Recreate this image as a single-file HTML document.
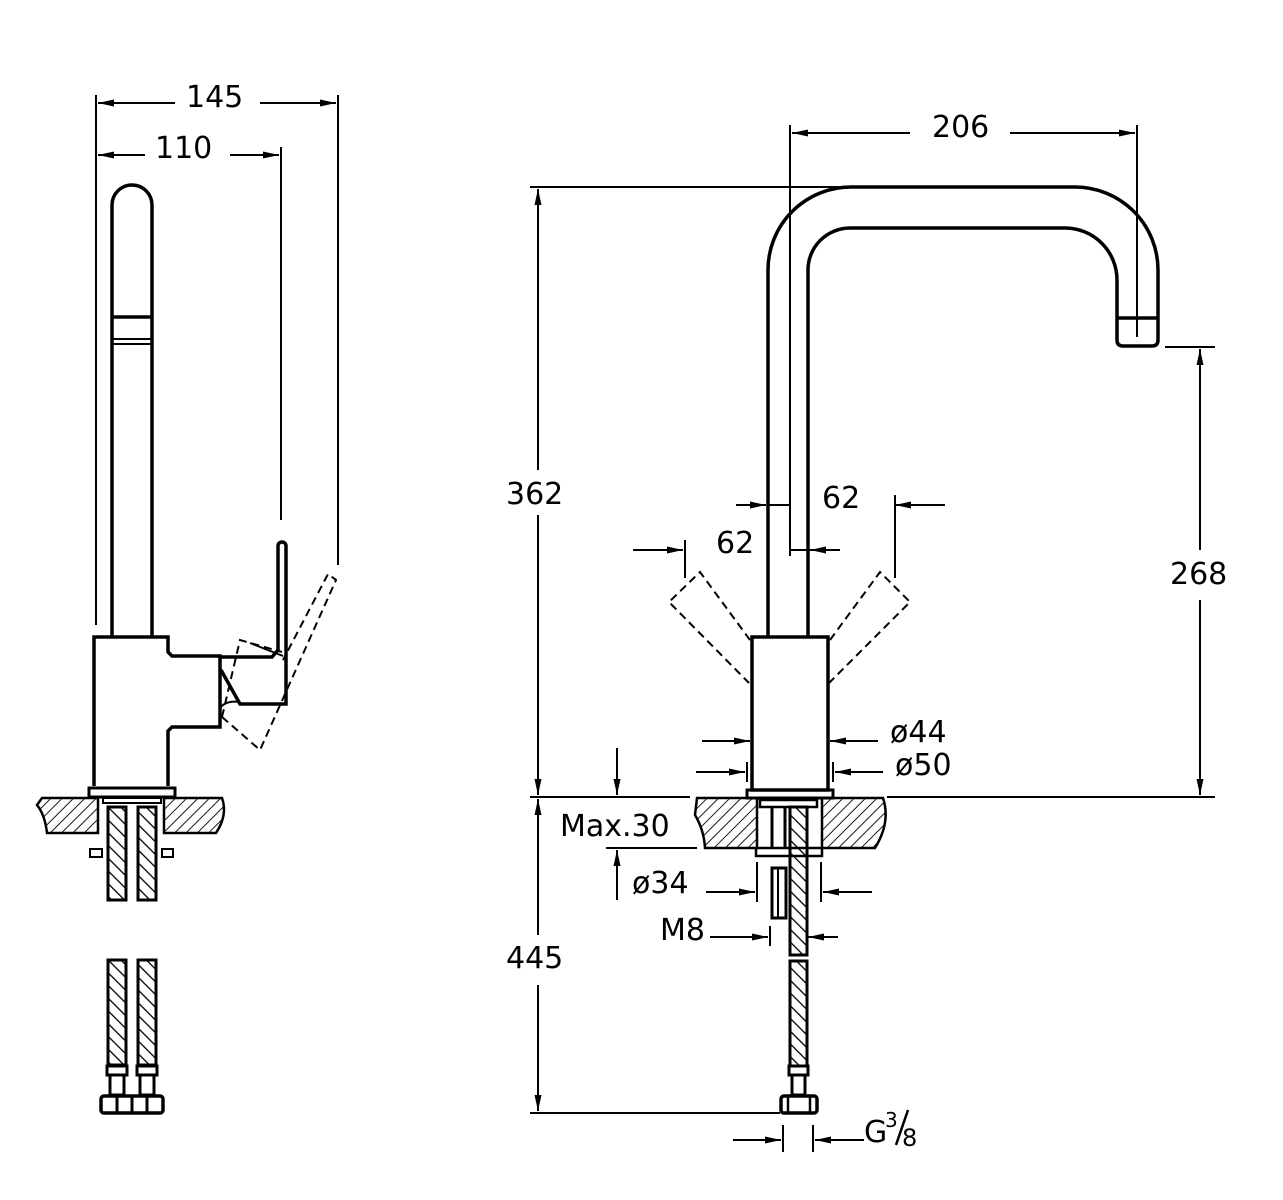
<!DOCTYPE html>
<html><head><meta charset="utf-8"><style>
html,body{margin:0;padding:0;background:#fff;}
svg{display:block}
text{font-family:"DejaVu Sans","Liberation Sans",sans-serif;font-size:30px;fill:#000}
</style></head><body>
<svg width="1283" height="1200" viewBox="0 0 1283 1200" xmlns="http://www.w3.org/2000/svg">
<defs>
<pattern id="h" width="8" height="8" patternUnits="userSpaceOnUse" patternTransform="rotate(45)">
<line x1="0" y1="0" x2="0" y2="8" stroke="#000" stroke-width="1.8"/></pattern>
<pattern id="h2" width="9" height="9" patternUnits="userSpaceOnUse" patternTransform="rotate(-45)">
<line x1="0" y1="0" x2="0" y2="9" stroke="#000" stroke-width="2.6"/></pattern>
<marker id="a" viewBox="0 0 16 7" refX="16" refY="3.5" markerWidth="16" markerHeight="7" orient="auto-start-reverse" markerUnits="userSpaceOnUse"><path d="M0,0 L16,3.5 L0,7 z" fill="#000"/></marker>
</defs>
<g fill="none" stroke="#000" stroke-width="2">
<line x1="96" y1="95" x2="96" y2="625"/>
<line x1="338" y1="95" x2="338" y2="565"/>
<line x1="281" y1="147" x2="281" y2="520"/>
<line x1="98" y1="103" x2="175" y2="103" marker-start="url(#a)"/>
<line x1="260" y1="103" x2="336" y2="103" marker-end="url(#a)"/>
<line x1="98" y1="155" x2="145" y2="155" marker-start="url(#a)"/>
<line x1="230" y1="155" x2="279" y2="155" marker-end="url(#a)"/>
<path d="M112,636 V205 A20,20 0 0 1 152,205 V636" stroke-width="3.5"/>
<line x1="112" y1="317" x2="152" y2="317" stroke-width="3.5"/>
<line x1="112" y1="339" x2="152" y2="339"/>
<line x1="112" y1="344" x2="152" y2="344"/>
<path d="M94,786 V637 H168 V652 L172,656 H220 V727 H172 L168,731 V786" stroke-width="3.5"/>
<path d="M220,657 H272 L278,650 V546 A4,4 0 0 1 286,546 V704 H240 L221,670" stroke-width="3.5"/>
<path d="M250,643 L283,656"/>
<path d="M220,708 Q226,700 240,702"/>
<path d="M222,717 L240,640 L282,652 M222,717 L260,750 L336,580 L328,574 L283,660" stroke-dasharray="8,5"/>
<rect x="89" y="788" width="86" height="9" stroke-width="3"/>
<path d="M42,798 H98 V833 H47 Q45,815 37,805 Z" fill="url(#h)" stroke-width="2.5"/>
<path d="M164,798 H222 Q228,815 216,833 H164 Z" fill="url(#h)" stroke-width="2.5"/>
<rect x="103" y="798" width="58" height="5"/>
<rect x="90" y="849" width="12" height="8"/>
<rect x="162" y="849" width="11" height="8"/>
<rect x="108" y="807" width="18" height="93" fill="url(#h2)" stroke-width="3"/>
<rect x="138" y="807" width="18" height="93" fill="url(#h2)" stroke-width="3"/>
<rect x="108" y="960" width="18" height="105" fill="url(#h2)" stroke-width="3"/>
<rect x="138" y="960" width="18" height="105" fill="url(#h2)" stroke-width="3"/>
<rect x="107" y="1066" width="20" height="9" stroke-width="3"/>
<rect x="137" y="1066" width="20" height="9" stroke-width="3"/>
<rect x="110" y="1075" width="14" height="20" stroke-width="3"/>
<rect x="140" y="1075" width="14" height="20" stroke-width="3"/>
<rect x="101" y="1096" width="62" height="17" rx="3" stroke-width="3.5"/>
<line x1="117" y1="1096" x2="117" y2="1113" stroke-width="3"/>
<line x1="132" y1="1096" x2="132" y2="1113" stroke-width="3"/>
<line x1="147" y1="1096" x2="147" y2="1113" stroke-width="3"/>

<line x1="790" y1="125" x2="790" y2="556"/>
<line x1="1137" y1="125" x2="1137" y2="337"/>
<line x1="792" y1="133" x2="910" y2="133" marker-start="url(#a)"/>
<line x1="1010" y1="133" x2="1135" y2="133" marker-end="url(#a)"/>
<line x1="530" y1="187" x2="850" y2="187"/>
<line x1="1165" y1="347" x2="1215" y2="347"/>
<line x1="538" y1="189" x2="538" y2="470" marker-start="url(#a)"/>
<line x1="538" y1="515" x2="538" y2="795" marker-end="url(#a)"/>
<line x1="1200" y1="349" x2="1200" y2="550" marker-start="url(#a)"/>
<line x1="1200" y1="600" x2="1200" y2="795" marker-end="url(#a)"/>
<line x1="530" y1="797" x2="690" y2="797"/>
<line x1="887" y1="797" x2="1215" y2="797"/>
<line x1="538" y1="799" x2="538" y2="935" marker-start="url(#a)"/>
<line x1="538" y1="985" x2="538" y2="1111" marker-end="url(#a)"/>
<line x1="530" y1="1113" x2="780" y2="1113"/>
<path d="M768,637 V270 A83,83 0 0 1 851,187 H1075 A83,83 0 0 1 1158,270 V340 Q1158,346 1152,346 H1123 Q1117,346 1117,340 V280 A52,52 0 0 0 1065,228 H850 A42,42 0 0 0 808,270 V637" stroke-width="3.5"/>
<line x1="1117" y1="318" x2="1158" y2="318" stroke-width="3.5"/>
<line x1="736" y1="505" x2="766" y2="505" marker-end="url(#a)"/>
<line x1="768" y1="505" x2="790" y2="505"/>
<line x1="895" y1="505" x2="945" y2="505" marker-start="url(#a)"/>
<line x1="895" y1="495" x2="895" y2="578"/>
<line x1="633" y1="550" x2="683" y2="550" marker-end="url(#a)"/>
<line x1="685" y1="540" x2="685" y2="578"/>
<line x1="790" y1="550" x2="840" y2="550"/>
<line x1="830" y1="550" x2="810" y2="550" marker-end="url(#a)"/>
<path d="M750,640 L700,572 L669,602 L749,683" stroke-dasharray="8,5"/>
<path d="M830,640 L880,572 L910,602 L829,683" stroke-dasharray="8,5"/>
<rect x="752" y="637" width="76" height="153" stroke-width="3.5"/>
<rect x="747" y="790" width="86" height="8" stroke-width="3"/>
<line x1="702" y1="741" x2="750" y2="741" marker-end="url(#a)"/>
<line x1="878" y1="741" x2="830" y2="741" marker-end="url(#a)"/>
<line x1="696" y1="772" x2="745" y2="772" marker-end="url(#a)"/>
<line x1="883" y1="772" x2="835" y2="772" marker-end="url(#a)"/>
<line x1="747" y1="762" x2="747" y2="782"/>
<line x1="833" y1="762" x2="833" y2="782"/>
<line x1="617" y1="748" x2="617" y2="795" marker-end="url(#a)"/>
<line x1="606" y1="848" x2="697" y2="848"/>
<line x1="617" y1="900" x2="617" y2="850" marker-end="url(#a)"/>
<path d="M697,798 H757 V848 H705 Q704,830 695,815 Z" fill="url(#h)" stroke-width="2.5"/>
<path d="M822,798 H883 Q891,822 875,848 H822 Z" fill="url(#h)" stroke-width="2.5"/>
<rect x="760" y="800" width="57" height="7" stroke-width="2.5"/>
<rect x="756" y="848" width="66" height="8" stroke-width="2.5"/>
<line x1="772" y1="807" x2="772" y2="848" stroke-width="3"/>
<line x1="785" y1="807" x2="785" y2="848" stroke-width="3"/>
<rect x="772" y="868" width="14" height="50" stroke-width="3"/>
<line x1="778" y1="868" x2="778" y2="918"/>
<rect x="790" y="807" width="17" height="148" fill="url(#h2)" stroke-width="3"/>
<rect x="790" y="961" width="17" height="105" fill="url(#h2)" stroke-width="3"/>
<rect x="789" y="1066" width="19" height="9" stroke-width="3"/>
<rect x="792" y="1075" width="13" height="20" stroke-width="3"/>
<rect x="781" y="1096" width="36" height="17" rx="3" stroke-width="3.5"/>
<line x1="788" y1="1096" x2="788" y2="1113" stroke-width="2.5"/>
<line x1="810" y1="1096" x2="810" y2="1113" stroke-width="2.5"/>
<line x1="706" y1="892" x2="755" y2="892" marker-end="url(#a)"/>
<line x1="872" y1="892" x2="823" y2="892" marker-end="url(#a)"/>
<line x1="757" y1="862" x2="757" y2="902"/>
<line x1="821" y1="862" x2="821" y2="902"/>
<line x1="710" y1="937" x2="768" y2="937" marker-end="url(#a)"/>
<line x1="770" y1="926" x2="770" y2="946"/>
<line x1="838" y1="937" x2="808" y2="937" marker-end="url(#a)"/>
<line x1="733" y1="1140" x2="781" y2="1140" marker-end="url(#a)"/>
<line x1="864" y1="1140" x2="815" y2="1140" marker-end="url(#a)"/>
<line x1="783" y1="1125" x2="783" y2="1152"/>
<line x1="813" y1="1125" x2="813" y2="1152"/>
<line x1="896" y1="1145" x2="908" y2="1110" stroke-width="2.5"/>
</g>
<text x="186" y="107">145</text>
<text x="155" y="158">110</text>
<text x="932" y="137">206</text>
<text x="506" y="504">362</text>
<text x="1170" y="584">268</text>
<text x="822" y="508">62</text>
<text x="716" y="553">62</text>
<text x="890" y="742">ø44</text>
<text x="895" y="775">ø50</text>
<text x="560" y="836">Max.30</text>
<text x="632" y="893">ø34</text>
<text x="660" y="940">M8</text>
<text x="506" y="968">445</text>
<text x="864" y="1142">G</text>
<text x="885" y="1127" style="font-size:20px">3</text>
<text x="902" y="1146" style="font-size:24px">8</text>
</svg>
</body></html>
